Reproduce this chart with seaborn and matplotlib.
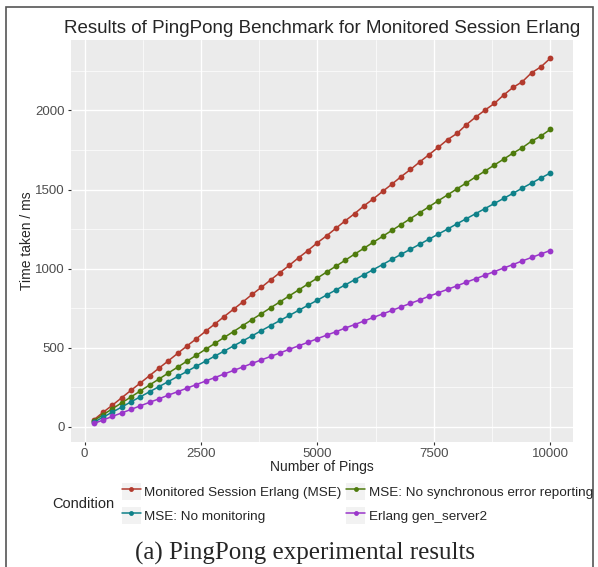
import pandas as pd
import seaborn as sns
import matplotlib.pyplot as plt
from matplotlib.ticker import MultipleLocator
from matplotlib.patches import Rectangle, Patch
from matplotlib.lines import Line2D
from matplotlib.legend_handler import HandlerTuple

# pings 200..10000, step 200
pings = [200, 400, 600, 800, 1000, 1200, 1400, 1600, 1800, 2000,
         2200, 2400, 2600, 2800, 3000, 3200, 3400, 3600, 3800, 4000,
         4200, 4400, 4600, 4800, 5000, 5200, 5400, 5600, 5800, 6000,
         6200, 6400, 6600, 6800, 7000, 7200, 7400, 7600, 7800, 8000,
         8200, 8400, 8600, 8800, 9000, 9200, 9400, 9600, 9800, 10000]

mse = [45, 93, 138, 185, 232, 278, 325, 372, 418, 465,
       512, 557, 605, 651, 698, 744, 790, 838, 883, 930,
       976, 1022, 1070, 1115, 1164, 1208, 1256, 1303, 1348, 1397,
       1441, 1488, 1534, 1582, 1627, 1675, 1721, 1768, 1816, 1855,
       1910, 1958, 2002, 2044, 2097, 2145, 2181, 2238, 2275, 2329]

no_sync = [40, 78, 115, 153, 190, 228, 266, 303, 341, 378,
           416, 453, 491, 528, 566, 603, 641, 679, 716, 754,
           791, 829, 866, 904, 941, 979, 1016, 1054, 1092, 1129,
           1167, 1204, 1242, 1279, 1317, 1354, 1392, 1430, 1467, 1505,
           1542, 1580, 1617, 1655, 1692, 1730, 1764, 1806, 1838, 1880]

no_mon = [30, 62, 94, 126, 159, 191, 223, 255, 287, 319,
          351, 384, 416, 448, 480, 512, 544, 576, 609, 641,
          673, 705, 737, 769, 801, 834, 866, 898, 930, 962,
          994, 1026, 1059, 1091, 1123, 1155, 1187, 1219, 1251, 1284,
          1316, 1348, 1380, 1412, 1444, 1476, 1509, 1541, 1573, 1604]

gen_server2 = [22, 44, 67, 89, 111, 134, 156, 178, 201, 223,
               245, 268, 290, 312, 335, 357, 379, 402, 424, 446,
               468, 491, 513, 535, 558, 580, 602, 625, 647, 669,
               692, 714, 736, 759, 781, 803, 826, 848, 870, 892,
               915, 937, 959, 982, 1004, 1026, 1049, 1071, 1093, 1115]

conditions = ['Monitored Session Erlang (MSE)', 'MSE: No synchronous error reporting',
              'MSE: No monitoring', 'Erlang gen_server2']
colours = ['#B23A2D', '#4E7B0D', '#0F8189', '#9A36CA']

df = pd.concat([
    pd.DataFrame({'Pings': pings, 'Time': vals, 'Condition': c})
    for c, vals in zip(conditions, [mse, no_sync, no_mon, gen_server2])
])

sns.set_theme(style='darkgrid', rc={
    'axes.facecolor': '#EBEBEB', 'grid.color': 'white',
    'axes.edgecolor': '#EBEBEB'})
plt.rcParams['font.family'] = ['Liberation Sans', 'DejaVu Sans']

fig = plt.figure(figsize=(5.98, 5.67), dpi=100)
ax = fig.add_axes([71/598, 1-441.7/567, (573-71)/598, (441.7-40)/567])

sns.lineplot(data=df, x='Pings', y='Time', hue='Condition',
             palette=dict(zip(conditions, colours)), marker='o',
             markersize=4.2, markeredgewidth=0, linewidth=1.1,
             legend=False, ax=ax)

ax.set_xlim(-290, 10490)
ax.set_ylim(-93, 2445)
ax.xaxis.set_major_locator(MultipleLocator(2500))
ax.xaxis.set_minor_locator(MultipleLocator(1250))
ax.yaxis.set_major_locator(MultipleLocator(500))
ax.yaxis.set_minor_locator(MultipleLocator(250))
ax.grid(which='major', color='white', linewidth=1.0)
ax.grid(which='minor', color='white', linewidth=0.5)
ax.tick_params(which='major', length=2.5, width=0.8, color='#333333',
               labelsize=9.5, labelcolor='#4D4D4D', pad=2, bottom=True, left=True)
ax.tick_params(which='minor', length=0)
for s in ax.spines.values():
    s.set_visible(False)

ax.set_xlabel('Number of Pings', fontsize=10, labelpad=0)
ax.set_ylabel('Time taken / ms', fontsize=10, labelpad=1)
ax.set_title('Results of PingPong Benchmark for Monitored Session Erlang',
             fontsize=13.5, pad=5)

# legend, ggplot style with grey key boxes
handles = []
for c in [colours[0], colours[2], colours[1], colours[3]]:
    handles.append((Patch(facecolor='#F2F2F2', edgecolor='none'),
                    Line2D([], [], color=c, marker='o', markersize=3.5,
                           markeredgewidth=0, linewidth=1.1)))
labels = [conditions[0], conditions[2], conditions[1], conditions[3]]
fig.legend(handles, labels, handler_map={tuple: HandlerTuple(ndivide=1, pad=0)},
           ncol=2, frameon=False, fontsize=9.7, loc='center left',
           bbox_to_anchor=(122/598, 1-503.5/567), handlelength=1.4,
           handleheight=1.6, handletextpad=0.25, columnspacing=0.35,
           labelspacing=0.5, borderpad=0, borderaxespad=0)
fig.text(52/598, 1-504/567, 'Condition', fontsize=10.5, va='center', ha='left')

fig.text(305/598, 1-560/567, '(a) PingPong experimental results',
         fontsize=18, family=['Liberation Serif', 'DejaVu Serif'],
         ha='center', va='baseline')

fig.patches.append(Rectangle((6/598, -0.05), 587/598, 1.05 - 7/567,
                             transform=fig.transFigure, fill=False,
                             edgecolor='#555555', linewidth=1.2))

fig.savefig('out.png', dpi=100)
